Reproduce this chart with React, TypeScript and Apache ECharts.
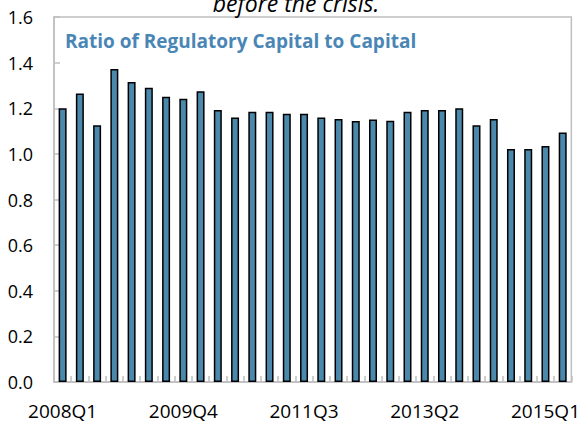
import React, { useEffect, useRef } from "react";
import * as echarts from "echarts";

const quarters: string[] = [
  "2008Q1", "2008Q2", "2008Q3", "2008Q4",
  "2009Q1", "2009Q2", "2009Q3", "2009Q4",
  "2010Q1", "2010Q2", "2010Q3", "2010Q4",
  "2011Q1", "2011Q2", "2011Q3", "2011Q4",
  "2012Q1", "2012Q2", "2012Q3", "2012Q4",
  "2013Q1", "2013Q2", "2013Q3", "2013Q4",
  "2014Q1", "2014Q2", "2014Q3", "2014Q4",
  "2015Q1", "2015Q2",
];

const ratioValues: number[] = [
  1.20, 1.265, 1.125, 1.372, 1.315, 1.29, 1.25, 1.242,
  1.275, 1.192, 1.16, 1.185, 1.185, 1.176, 1.176, 1.16,
  1.153, 1.144, 1.151, 1.145, 1.185, 1.192, 1.192, 1.20,
  1.126, 1.153, 1.021, 1.021, 1.035, 1.094,
];

const yTicks = { min: 0, max: 1.6, interval: 0.2 };

const titleText = "Ratio of Regulatory Capital to Capital";
const topText = "before the crisis.";

const FONT = "'Open Sans', 'Noto Sans', sans-serif";

export default function App() {
  const ref = useRef<HTMLDivElement>(null);

  useEffect(() => {
    if (!ref.current) return;
    const chart = echarts.init(ref.current, null, { renderer: "svg" });
    chart.setOption({
      animation: false,
      backgroundColor: "#ffffff",
      textStyle: { fontFamily: FONT },
      grid: {
        left: 54,
        right: 11,
        top: 17,
        bottom: 41,
        show: true,
        borderColor: "#BFBFBF",
        borderWidth: 1.5,
        containLabel: false,
      },
      graphic: [
        {
          type: "text",
          x: 296,
          y: 2.5,
          style: {
            text: topText,
            fontFamily: FONT,
            fontStyle: "italic",
            fontSize: 23,
            fill: "#000000",
            align: "center",
            verticalAlign: "middle",
          },
        },
        {
          type: "text",
          x: 65,
          y: 41,
          style: {
            text: titleText,
            fontFamily: FONT,
            fontWeight: "bold",
            fontSize: 19,
            fill: "#4A86B5",
            verticalAlign: "middle",
          },
        },
      ],
      xAxis: {
        type: "category",
        data: quarters,
        boundaryGap: true,
        axisLine: { show: true, lineStyle: { color: "#BFBFBF", width: 1.5 } },
        axisTick: {
          show: true,
          inside: true,
          length: 6,
          interval: 0,
          alignWithLabel: false,
          lineStyle: { color: "#BFBFBF", width: 1.5 },
        },
        axisLabel: {
          interval: 6,
          fontSize: 19,
          color: "#000000",
          margin: 19,
          fontFamily: FONT,
        },
        splitLine: { show: false },
      },
      yAxis: {
        type: "value",
        min: yTicks.min,
        max: yTicks.max,
        interval: yTicks.interval,
        axisLine: { show: true, lineStyle: { color: "#BFBFBF", width: 1.5 } },
        axisTick: {
          show: true,
          inside: true,
          length: 6,
          lineStyle: { color: "#BFBFBF", width: 1.5 },
        },
        axisLabel: {
          fontSize: 18,
          color: "#000000",
          margin: 21,
          fontFamily: FONT,
          padding: [5, 0, 0, 0],
          formatter: (v: number) => v.toFixed(1),
        },
        splitLine: { show: false },
      },
      series: [
        {
          type: "bar",
          data: ratioValues,
          barWidth: 8,
          itemStyle: {
            color: "#4A89AC",
            borderColor: "#000000",
            borderWidth: 1.5,
          },
        },
      ],
    });
    return () => chart.dispose();
  }, []);

  return (
    <div
      ref={ref}
      style={{ position: "fixed", left: 0, top: 0, width: 583, height: 423 }}
    />
  );
}
